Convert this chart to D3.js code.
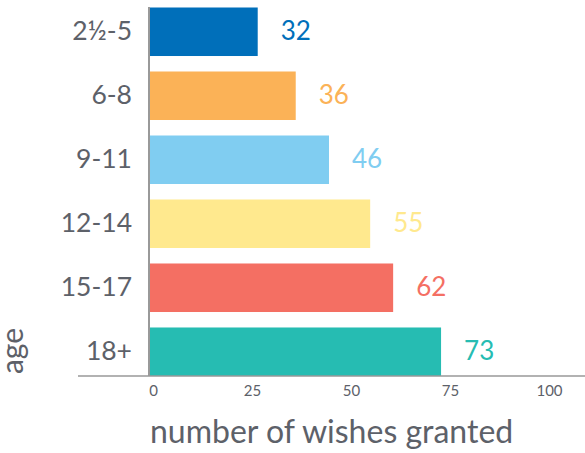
<!DOCTYPE html>
<html>
<head>
<meta charset="utf-8">
<script src="https://cdn.jsdelivr.net/npm/d3@7.9.0/dist/d3.min.js"></script>
<style>
  body { margin: 0; background: #fff; }
  svg text { font-family: Lato, 'Open Sans', sans-serif; }
</style>
</head>
<body>
<svg id="chart" width="585" height="453"></svg>
<script>
const ages = ['2½-5', '6-8', '9-11', '12-14', '15-17', '18+'];
// bar lengths as drawn, and the numbers printed beside them
const barValues = [27.2, 36.8, 45.2, 55.6, 61.4, 73.5];
const wishLabels = [32, 36, 46, 55, 62, 73];
const colors = ['#006fba', '#fbb257', '#80cdf1', '#ffe98e', '#f46f63', '#26bcb2'];
const xTicks = [0, 25, 50, 75, 100];

const svg = d3.select('#chart');
const textColor = '#5d6169';

const x = d3.scaleLinear().domain([0, 100]).range([150, 546]);
const y = d3.scaleBand()
  .domain(ages)
  .range([0, 376])
  .paddingInner(0.242)
  .paddingOuter(0.0586)
  .align(1);

svg.selectAll('rect.bar')
  .data(ages)
  .join('rect')
  .attr('class', 'bar')
  .attr('x', x(0))
  .attr('y', (d) => y(d))
  .attr('width', (d, i) => x(barValues[i]) - x(0))
  .attr('height', y.bandwidth())
  .attr('fill', (d, i) => colors[i]);

svg.selectAll('text.value')
  .data(ages)
  .join('text')
  .attr('class', 'value')
  .attr('x', (d, i) => x(barValues[i]) + 23)
  .attr('y', (d) => y(d) + y.bandwidth() / 2)
  .attr('dy', '0.33em')
  .attr('fill', (d, i) => colors[i])
  .style('font-size', '26px')
  .text((d, i) => wishLabels[i]);

// y axis
const yAxis = svg.append('g')
  .attr('transform', `translate(${x(0) - 1},0)`)
  .call(d3.axisLeft(y).tickSize(0).tickPadding(17));
yAxis.select('.domain').attr('d', `M0,7V376`).attr('stroke', '#999').attr('stroke-width', 2);
yAxis.selectAll('text')
  .attr('fill', textColor)
  .style('font-size', '26.5px');

// x axis
const xAxis = svg.append('g')
  .attr('transform', 'translate(0,376)')
  .call(d3.axisBottom(x).tickValues(xTicks).tickSize(0).tickPadding(9));
xAxis.select('.domain').attr('d', 'M78,0H585').attr('stroke', '#999').attr('stroke-width', 1.5);
xAxis.selectAll('text')
  .attr('fill', textColor)
  .attr('dx', 3)
  .style('font-size', '15px');

svg.append('text')
  .attr('x', 150)
  .attr('y', 443)
  .attr('fill', textColor)
  .style('font-size', '32px')
  .text('number of wishes granted');

svg.append('text')
  .attr('transform', 'translate(23,351) rotate(-90)')
  .attr('text-anchor', 'middle')
  .attr('fill', textColor)
  .style('font-size', '30px')
  .text('age');
</script>
</body>
</html>
